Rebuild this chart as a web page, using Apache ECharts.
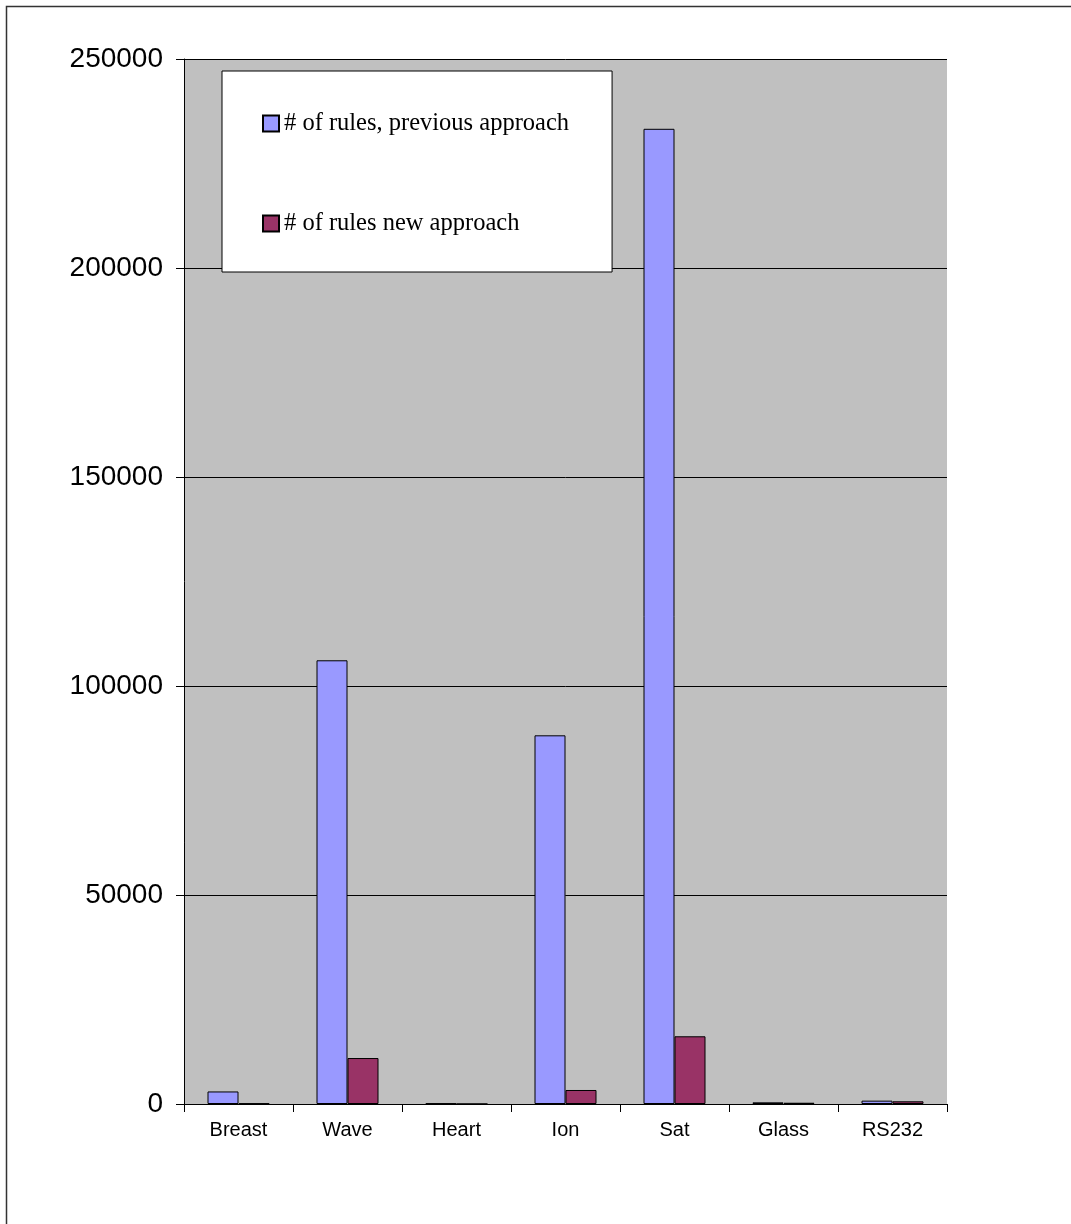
<!DOCTYPE html>
<html>
<head>
<meta charset="utf-8">
<script src="https://cdn.jsdelivr.net/npm/echarts@6/dist/echarts.min.js"></script>
<style>
  html, body { margin: 0; padding: 0; background: #fff; }
  #chart { width: 1071px; height: 1224px; }
</style>
</head>
<body>
<div id="chart"></div>
<script>
  // data
  const categories = ['Breast', 'Wave', 'Heart', 'Ion', 'Sat', 'Glass', 'RS232'];
  const previousRules = [3000, 106150, 150, 88200, 233300, 400, 800];
  const newRules = [150, 11000, 20, 3350, 16200, 300, 650];
  const yTicks = { min: 0, max: 250000, interval: 50000 };

  const chart = echarts.init(document.getElementById('chart'));

  const option = {
    animation: false,
    graphic: [
      {
        type: 'rect',
        shape: { x: 6.5, y: 6.5, width: 1200, height: 1400 },
        style: { fill: 'none', stroke: '#333', lineWidth: 1.5 },
        silent: true
      }
    ],
    grid: {
      left: 184,
      right: 124,
      top: 59,
      bottom: 120,
      show: true,
      backgroundColor: '#C0C0C0',
      borderWidth: 0
    },
    legend: {
      orient: 'vertical',
      left: 222,
      top: 71,
      padding: [40, 43, 36, 40],
      itemGap: 75,
      itemWidth: 16,
      itemHeight: 16,
      icon: 'rect',
      backgroundColor: '#fff',
      borderColor: '#000',
      borderWidth: 1,
      textStyle: {
        fontFamily: '"Liberation Serif", "Times New Roman", serif',
        fontSize: 24.5,
        color: '#000'
      },
      data: ['# of rules, previous approach', '# of rules new approach']
    },
    xAxis: {
      type: 'category',
      data: categories,
      boundaryGap: true,
      axisLine: { lineStyle: { color: '#000', width: 1 } },
      axisTick: { show: true, length: 8, lineStyle: { color: '#000' } },
      axisLabel: {
        fontFamily: '"Liberation Sans", Arial, sans-serif',
        fontSize: 20,
        color: '#000',
        margin: 16
      },
      splitLine: { show: false }
    },
    yAxis: {
      type: 'value',
      min: yTicks.min,
      max: yTicks.max,
      interval: yTicks.interval,
      axisLine: { show: true, lineStyle: { color: '#000', width: 1 } },
      axisTick: { show: true, length: 8, lineStyle: { color: '#000' } },
      axisLabel: {
        fontFamily: '"Liberation Sans", Arial, sans-serif',
        fontSize: 28,
        color: '#000',
        margin: 21,
        formatter: (v) => String(v)
      },
      splitLine: { show: true, lineStyle: { color: '#000', width: 1 } }
    },
    series: [
      {
        name: '# of rules, previous approach',
        type: 'bar',
        data: previousRules,
        barWidth: 31,
        barGap: 0,
        itemStyle: { color: '#9999FF', borderColor: '#000', borderWidth: 1 }
      },
      {
        name: '# of rules new approach',
        type: 'bar',
        data: newRules,
        barWidth: 31,
        barGap: 0,
        itemStyle: { color: '#993366', borderColor: '#000', borderWidth: 1 }
      }
    ]
  };

  chart.setOption(option);
</script>
</body>
</html>
